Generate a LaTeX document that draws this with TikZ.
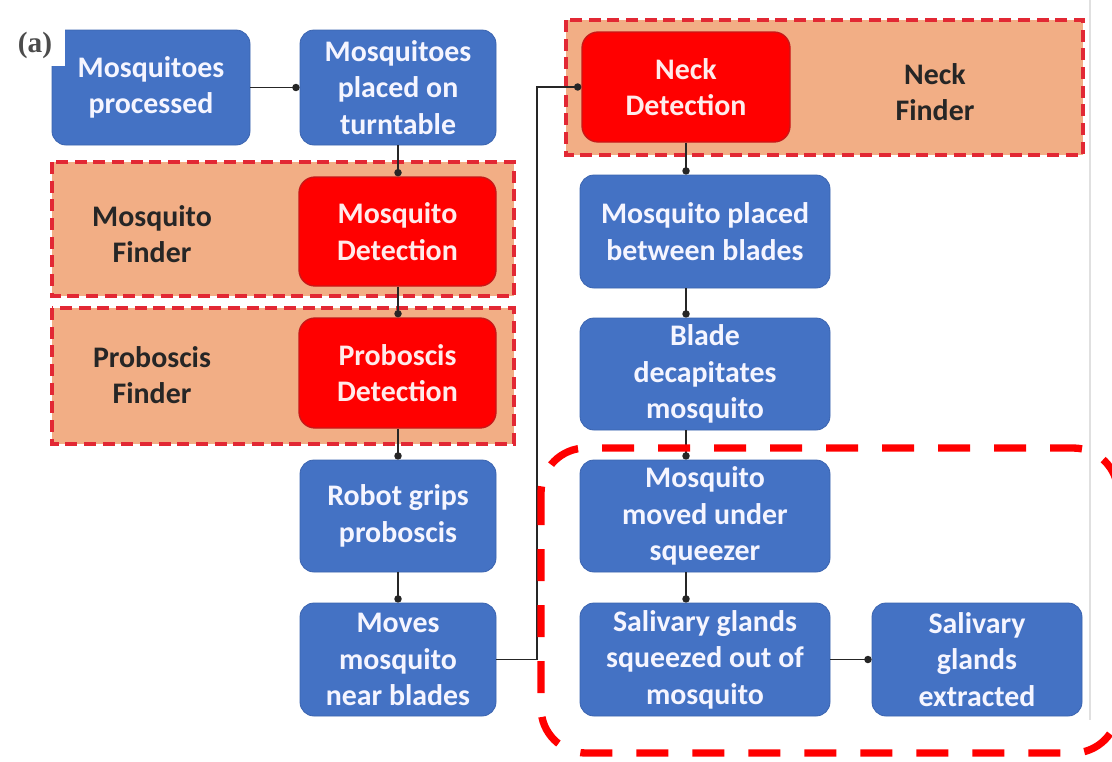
\documentclass[tikz,border=0pt]{standalone}
\usepackage{fontspec}
\setmainfont{Carlito}
\newfontfamily\panelfont{Liberation Serif}
\usetikzlibrary{arrows.meta}
\definecolor{stepblue}{HTML}{4472C4}
\definecolor{stepblueedge}{HTML}{3B64B0}
\definecolor{detred}{HTML}{FF0000}
\definecolor{detrededge}{HTML}{C81818}
\definecolor{finderfill}{HTML}{F2AE85}
\definecolor{finderedge}{HTML}{E22834}
\definecolor{zonered}{HTML}{FF0000}
\tikzset{
  stepbox/.style={rectangle, rounded corners=14*0.75pt, fill=stepblue, draw=stepblueedge, line width=0.6pt,
    text=white!96!blue, font=\fontsize{22.4}{27.3}\selectfont\bfseries, align=center, inner sep=0pt},
  detbox/.style={rectangle, rounded corners=16*0.75pt, fill=detred, draw=detrededge, line width=1pt,
    text=white!92!red, font=\fontsize{22.4}{27.3}\selectfont\bfseries, align=center, inner sep=0pt},
  finder/.style={fill=finderfill, draw=finderedge, line width=2.4pt, dash pattern=on 9pt off 5pt},
  findertext/.style={text=black!85, font=\fontsize{22.4}{27.3}\selectfont\bfseries, align=center},
  flow/.style={draw=black!85, line width=1.4pt, -{Circle[length=5.5pt]}},
}
\begin{document}
\begin{tikzpicture}[x=0.75pt, y=-0.75pt]
\useasboundingbox (0,0) rectangle (1112,761);
\fill[white] (0,0) rectangle (1112,761);
% edge of the figure panel
\draw[black!12, line width=0.8pt] (1090,0) -- (1090,720);

% finder zones
\path[finder] (52,162) rectangle (514,296);
\path[finder] (52,308) rectangle (514,444);
\path[finder] (566,20) rectangle (1083,155);
\node[findertext] (mfind) at (152,234) {Mosquito\\Finder};
\node[findertext] (pfind) at (152,375) {Proboscis\\Finder};
\node[findertext] (nfind) at (935,92) {Neck\\Finder};

% left column
\node[stepbox, minimum width=198*0.75pt, minimum height=115*0.75pt] (proc) at (151,87.5) {Mosquitoes\\processed};
\node[fill=white, minimum width=60*0.75pt, minimum height=42*0.75pt, inner sep=0pt,
      text=black!70, font=\panelfont\bfseries\fontsize{22}{24}\selectfont] (tag) at (35,45) {(a)};
\node[stepbox, minimum width=196*0.75pt, minimum height=115*0.75pt] (turn) at (398,87.5) {Mosquitoes\\placed on\\turntable};
\node[detbox, minimum width=197*0.75pt, minimum height=109*0.75pt] (mdet) at (397.5,231.5) {Mosquito\\Detection};
\node[detbox, minimum width=197*0.75pt, minimum height=110*0.75pt] (pdet) at (397.5,373) {Proboscis\\Detection};
\node[stepbox, minimum width=196*0.75pt, minimum height=112*0.75pt] (grip) at (398,516) {Robot grips\\proboscis};
\node[stepbox, minimum width=196*0.75pt, minimum height=113*0.75pt] (move) at (398,659.5) {Moves\\mosquito\\near blades};

% right column
\node[detbox, minimum width=208*0.75pt, minimum height=110*0.75pt] (ndet) at (686,87) {Neck\\Detection};
\node[stepbox, minimum width=250*0.75pt, minimum height=113*0.75pt] (place) at (705,231.5) {Mosquito placed\\between blades};
\node[stepbox, minimum width=250*0.75pt, minimum height=112*0.75pt] (blade) at (705,374) {Blade\\decapitates\\mosquito};
\node[stepbox, minimum width=250*0.75pt, minimum height=112*0.75pt] (under) at (705,516) {Mosquito\\moved under\\squeezer};
\node[stepbox, minimum width=250*0.75pt, minimum height=113*0.75pt] (squeeze) at (705,659.5) {Salivary glands\\squeezed out of\\mosquito};
\node[stepbox, minimum width=210*0.75pt, minimum height=113*0.75pt] (extract) at (977,659.5) {Salivary\\glands\\extracted};

% connectors
\draw[flow] (proc.east) -- (turn.west);
\draw[flow] (turn.south) -- (mdet.north -| turn.south);
\draw[flow] (mdet.south -| turn.south) -- (pdet.north -| turn.south);
\draw[flow] (pdet.south -| turn.south) -- (grip.north);
\draw[flow] (grip.south) -- (move.north);
\draw[flow] (move.east) -- ++(41,0) |- (ndet.west);
\draw[flow] (ndet.south) -- (place.north -| ndet.south);
\draw[flow] (place.south -| ndet.south) -- (blade.north -| ndet.south);
\draw[flow] (blade.south -| ndet.south) -- (under.north -| ndet.south);
\draw[flow] (under.south -| ndet.south) -- (squeeze.north -| ndet.south);
\draw[flow] (squeeze.east) -- (extract.west);

% extraction zone
\draw[zonered, line width=5.5pt, dash pattern=on 24pt off 18pt, rounded corners=45*0.75pt]
  (541,448) rectangle (1118,753);
\end{tikzpicture}
\end{document}
